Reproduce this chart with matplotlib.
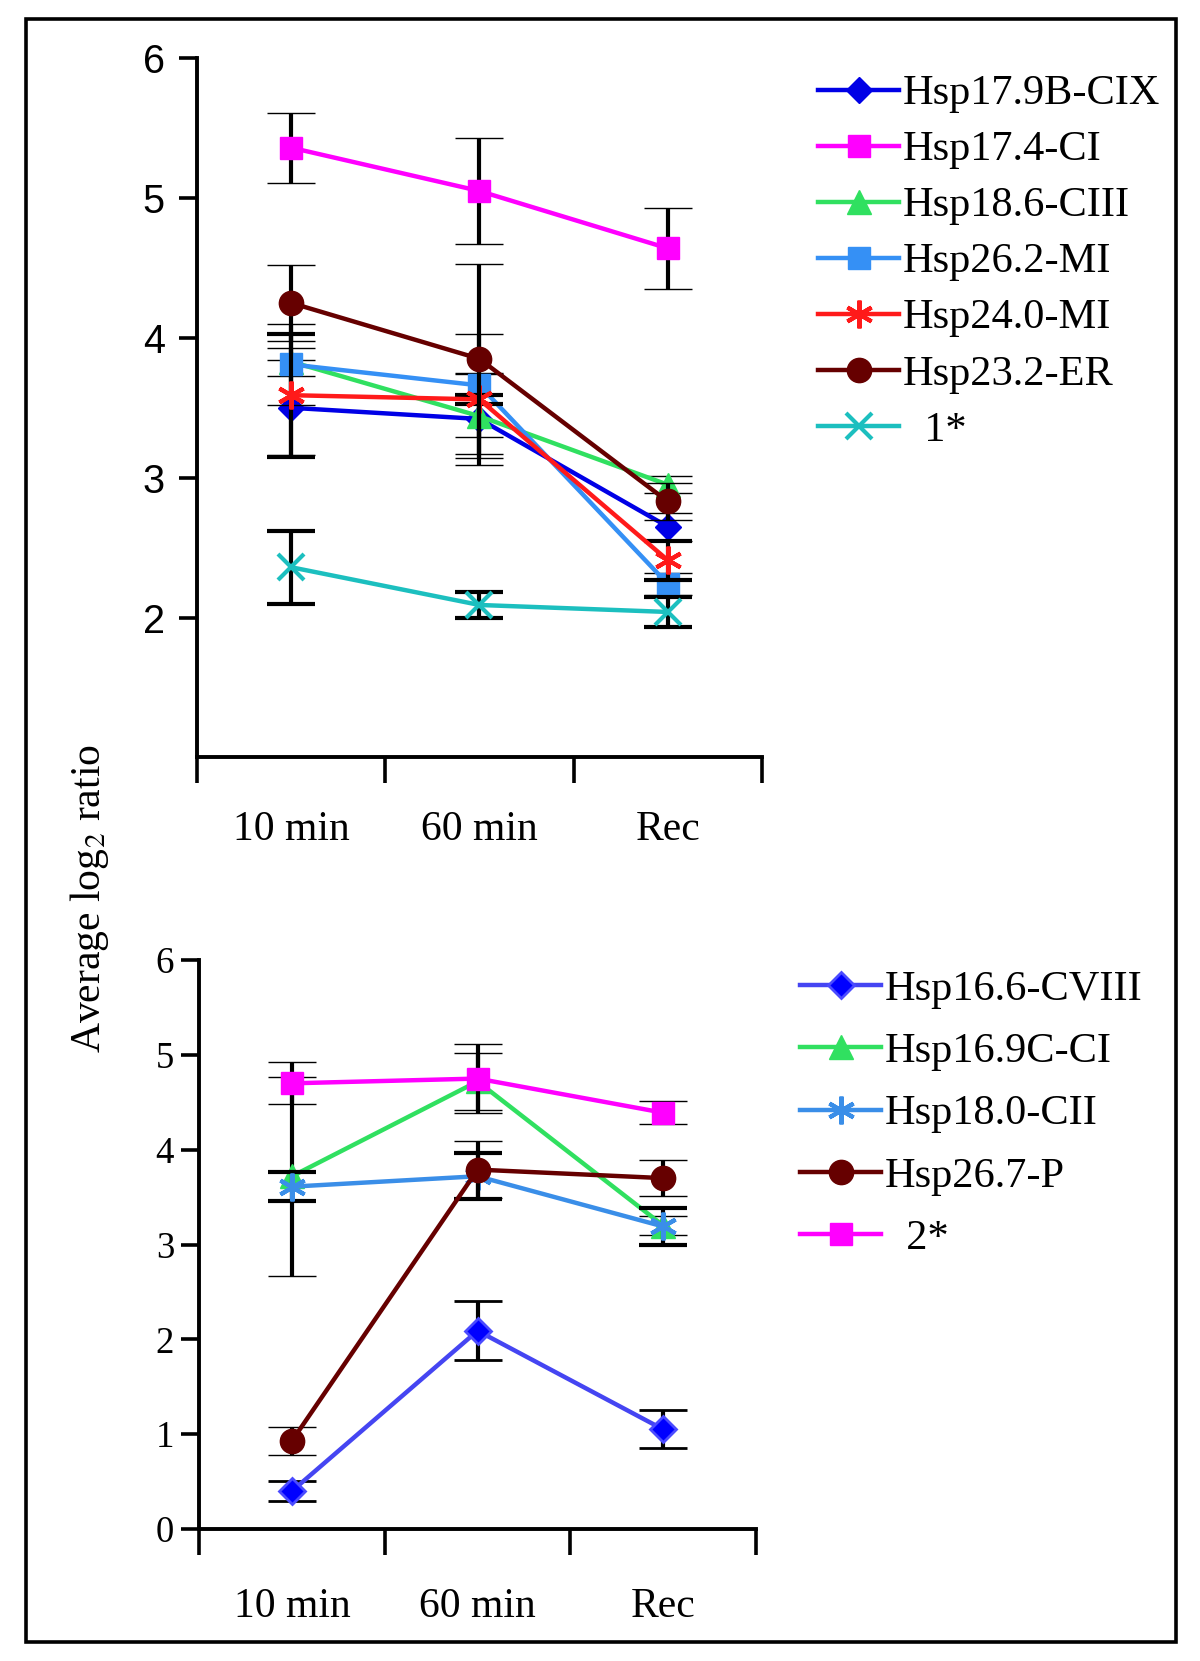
import matplotlib
matplotlib.use('Agg')
import matplotlib.pyplot as plt
from matplotlib.patches import Rectangle

plt.rcParams['font.family'] = ['Liberation Serif', 'DejaVu Serif']
plt.rcParams['mathtext.fontset'] = 'stix'

# time points
categories = ['10 min', '60 min', 'Rec']

# upper panel
top_names = ['Hsp17.9B-CIX', 'Hsp17.4-CI', 'Hsp18.6-CIII', 'Hsp26.2-MI',
             'Hsp24.0-MI', 'Hsp23.2-ER', '  1*']
top_vals = [
    [3.50, 3.42, 2.65],
    [5.36, 5.05, 4.64],
    [3.83, 3.44, 2.95],
    [3.81, 3.66, 2.24],
    [3.59, 3.56, 2.41],
    [4.25, 3.85, 2.83],
    [2.36, 2.09, 2.04],
]
top_err = [
    [0.34, 0.33, 0.10],
    [0.25, 0.38, 0.29],
    [0.10, 0.30, 0.06],
    [0.29, 0.37, 0.08],
    [0.44, 0.03, 0.14],
    [0.27, 0.68, 0.13],
    [0.26, 0.09, 0.11],
]

# lower panel
bot_names = ['Hsp16.6-CVIII', 'Hsp16.9C-CI', 'Hsp18.0-CII', 'Hsp26.7-P', '  2*']
bot_vals = [
    [0.40, 2.09, 1.05],
    [3.72, 4.72, 3.20],
    [3.61, 3.72, 3.19],
    [0.93, 3.79, 3.70],
    [4.70, 4.75, 4.39],
]
bot_err = [
    [0.11, 0.31, 0.20],
    [1.05, 0.30, 0.10],
    [0.15, 0.24, 0.19],
    [0.15, 0.30, 0.19],
    [0.22, 0.36, 0.12],
]

# style per series: (line colour, marker, face, edge, size, edge width)
top_styles = [
    ('#0000E6', 'D', '#0000E6', '#0000E6', 13, 1),
    ('#FF00FF', 's', '#FF00FF', '#FF00FF', 16.5, 1),
    ('#30E060', '^', '#30E060', '#30E060', 17.5, 1),
    ('#3590F5', 's', '#3590F5', '#3590F5', 16.5, 1),
    ('#FF1A1A', (6, 2, 0), '#FF1A1A', '#FF1A1A', 20, 3),
    ('#660000', 'o', '#660000', '#660000', 17.5, 1),
    ('#1CBFBF', 'x', '#1CBFBF', '#1CBFBF', 19, 3),
]
bot_styles = [
    ('#4545F2', 'D', '#0000FF', '#4B4BFF', 13, 2),
    ('#30E060', '^', '#30E060', '#30E060', 17.5, 1),
    ('#3A8EE8', (6, 2, 0), '#3A8EE8', '#3A8EE8', 20, 3),
    ('#660000', 'o', '#660000', '#660000', 17.5, 1),
    ('#FF00FF', 's', '#FF00FF', '#FF00FF', 16.5, 1),
]

x = [0.5, 1.5, 2.5]

fig = plt.figure(figsize=(12, 16.61), dpi=100)
ax1 = fig.add_axes([0.164, 0.544, 0.471, 0.421])
ax2 = fig.add_axes([0.166, 0.0795, 0.464, 0.3425])


def draw(ax, vals, errs, names, styles):
    handles = []
    for i, (v, e, n, st) in enumerate(zip(vals, errs, names, styles)):
        col, mk, fc, ec, ms, mew = st
        h = ax.errorbar(x, v, yerr=e, color=col, lw=3.2, marker=mk, ms=ms,
                        mfc=fc, mec=ec, mew=mew, ecolor='black', elinewidth=3,
                        capsize=17, capthick=3.2, zorder=2 + i * 0.3, label=n)
        handles.append(h[0])
    ax.set_xlim(0, 3)
    ax.set_xticks([0, 1, 2, 3])
    ax.set_xticklabels([])
    ax.set_xticks(x, minor=True)
    ax.set_xticklabels(categories, minor=True, fontsize=30)
    ax.tick_params(axis='x', which='major', direction='out', length=19, width=2.6)
    ax.tick_params(axis='y', which='major', direction='out', length=13, width=2.6)
    for s in ['top', 'right']:
        ax.spines[s].set_visible(False)
    for s in ['left', 'bottom']:
        ax.spines[s].set_linewidth(2.8)
    return handles


h1 = draw(ax1, top_vals, top_err, top_names, top_styles)
ax1.set_ylim(1, 6)
ax1.set_yticks([2, 3, 4, 5, 6])
ax1.set_yticklabels(['2', '3', '4', '5', '6'], family='Liberation Sans', fontsize=28.5)
ax1.tick_params(axis='y', pad=10)
ax1.tick_params(axis='x', which='minor', length=0, pad=38)

h2 = draw(ax2, bot_vals, bot_err, bot_names, bot_styles)
ax2.set_ylim(0, 6)
ax2.set_yticks([0, 1, 2, 3, 4, 5, 6])
ax2.set_yticklabels([str(t) for t in range(7)], fontsize=26.5)
ax2.tick_params(axis='y', pad=5)
ax2.tick_params(axis='x', which='minor', length=0, pad=42)

fig.legend(handles=h1, labels=top_names, loc='upper left',
           bbox_to_anchor=(0.682, 0.955), frameon=False, fontsize=30.5,
           handlelength=1.9, handletextpad=0.1, labelspacing=0.41,
           borderpad=0, borderaxespad=0, numpoints=1)
fig.legend(handles=h2, labels=bot_names, loc='upper left',
           bbox_to_anchor=(0.667, 0.416), frameon=False, fontsize=30.5,
           handlelength=1.9, handletextpad=0.1, labelspacing=0.56,
           borderpad=0, borderaxespad=0, numpoints=1)

fig.text(0.075, 0.459, r'Average log$_2$ ratio', rotation=90, fontsize=30,
         ha='center', va='center')

fig.patches.append(Rectangle((0.022, 0.0117), 0.958, 0.9769, transform=fig.transFigure,
                             fill=False, lw=2.6, ec='black'))

fig.savefig('out.png', dpi=100)
